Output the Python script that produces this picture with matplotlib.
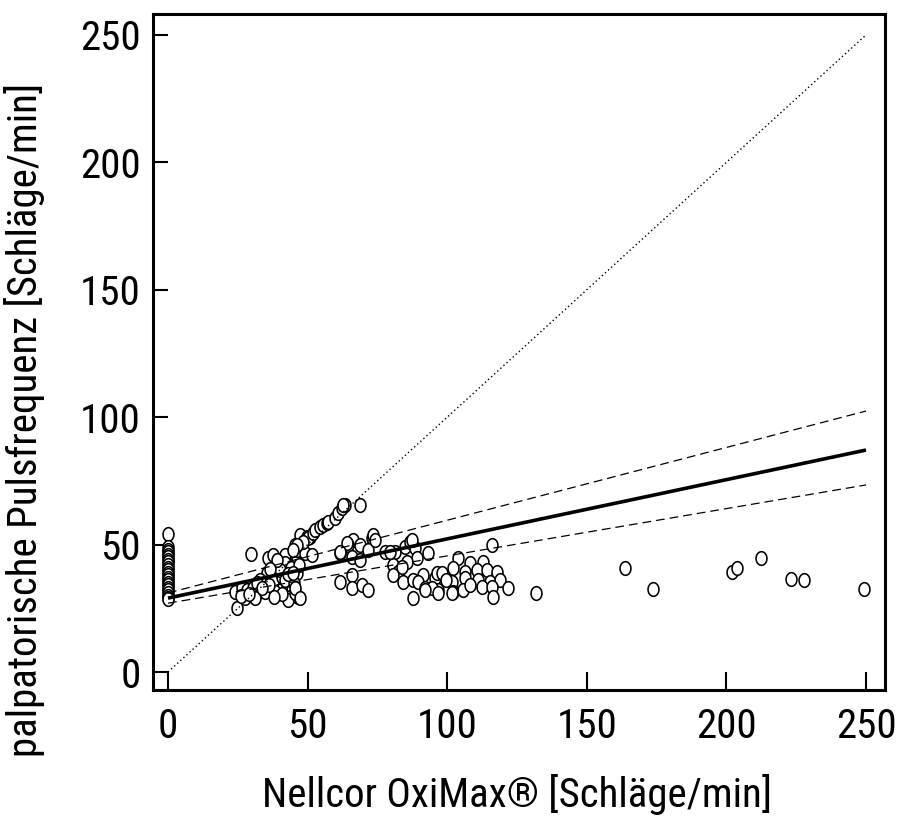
import glob
import numpy as np
import matplotlib
matplotlib.use("Agg")
import matplotlib.pyplot as plt
from matplotlib import font_manager
from matplotlib.font_manager import FontProperties
from matplotlib.textpath import TextPath

# ---------- pick a narrow font if one exists ----------
files = [f.fname for f in font_manager.fontManager.ttflist]
prefs = ["LiberationSansNarrow-Regular", "RobotoCondensed-Regular",
         "Roboto_Condensed-Regular", "RobotoCondensed[", "OpenSans_Condensed-Regular",
         "OpenSansCondensed-Regular", "DejaVuSansCondensed.ttf"]
chosen = None
for p in prefs:
    for fn in files:
        if p.lower() in fn.lower().replace(" ", ""):
            chosen = fn
            break
    if chosen:
        break
if chosen:
    FP = FontProperties(fname=chosen)
else:
    FP = FontProperties(family="Liberation Sans")

ext = TextPath((0, 0), "250", size=10, prop=FP).get_extents()
w_px = ext.width * 100 / 72 / 10
h_px = ext.height * 100 / 72 / 10
FS = float(np.sqrt((56 / w_px) * (30 / h_px)))

# ---------------- data ----------------
zero_y = [54, 49, 48, 47, 46, 45, 44, 43, 42, 41, 40, 39, 38, 37, 36, 35,
          34, 33, 32, 31, 30, 29, 28.5]
zero_x = [0] * len(zero_y)

pts_x = [24, 24.6, 26.4, 28.2, 30.6, 31.8, 27.6, 31.2, 34.7, 35.3, 35.9, 37.7,
         38.9, 37.7, 38.3, 41.9, 41.9, 40.7, 42.5, 44.3, 43.7, 45.5, 46.1, 46.1,
         47.3, 43, 46.7, 29.7, 33, 36, 40, 42, 39, 44, 45, 32, 36.5, 43, 47,
         45.5, 41, 38, 33.5, 26, 29,
         50.9, 47.3, 46.1, 49.1, 51.5, 44.9, 45.5, 47.3, 49.7, 50.3, 52, 52.6,
         54.4, 55.6, 56.8, 57.4, 59.8, 61, 62.2, 63.4, 62.8, 68.8, 48.5, 46.1, 44.9,
         66.4, 64.6, 68.8, 73, 61.6, 65.8, 68.8, 71.7, 65.8, 61.6, 65.8, 69.4,
         71.7, 64, 61.6, 73.5, 74.1,
         77.7, 81.3, 84.9, 86.7, 88.5, 89.1, 93.2, 85.5, 80.7, 82.5, 83.7, 80.7,
         84.3, 87.9, 91.4, 89.6, 92, 95.6, 96.8, 94.4, 87.9, 96.8, 96.2, 87.3,
         79.5, 92,
         115.9, 104, 108.2, 112.9, 102.2, 106.4, 110.6, 114.1, 117.7, 98, 101.6,
         106.4, 111.1, 115.3, 118.9, 102.2, 105.8, 112.4, 115.9, 116.5, 121.9,
         101.6, 99.5, 108,
         131.7, 163.8, 173.8, 202.1, 203.8, 212.3, 223, 227.9, 249.3]
pts_y = [31.5, 25, 32.8, 32.2, 32.8, 30.9, 28.9, 28.9, 31.5, 38.7, 44.6, 45.9,
         40, 35.4, 31.5, 45.9, 42.7, 37.4, 32.8, 32.2, 29.6, 49.8, 44, 38.7,
         47.9, 28.3, 29.6, 46.2, 36, 34, 40, 36, 44, 41, 35, 35, 40.5, 38.5, 42,
         31, 30.5, 29.5, 33, 30, 30.5,
         53.1, 53.8, 47.9, 46.6, 45.9, 38.7, 32.8, 28.9, 53.1, 52.5, 54.4, 55.7,
         57, 57.7, 58.4, 59, 60.3, 62.3, 64.2, 65.5, 65.5, 65.5, 51.1, 49.8, 47.9,
         51.8, 49.8, 49.8, 52.5, 46.6, 45.2, 44, 47.9, 38.1, 35.4, 32.8, 34.1,
         32.2, 50.5, 47.2, 53.8, 51.8,
         47.2, 47.2, 49.2, 51.1, 48.5, 44.6, 46.6, 43.3, 42, 39.4, 41.3, 38.1,
         35.4, 36.1, 38.1, 35.4, 32.8, 36.8, 32.2, 32.8, 28.9, 30.9, 38.7, 51.8,
         47.2, 32.2,
         49.8, 44.6, 42.7, 43.3, 40.7, 39.4, 40, 40, 39.4, 38.7, 35.4,
         36.8, 36.1, 35.4, 36.1, 31.5, 32.2, 33.5, 33.5, 29.6, 32.8,
         30.9, 36, 34,
         31.1, 40.7, 32.7, 39.1, 40.7, 44.7, 36.6, 36.1, 32.7]

ident_x = [0, 250]
ident_y = [0, 250]
reg_x = [0, 250]
reg_y = [29.0, 87.1]
upper_y = [31.0, 102.4]
lower_y = [27.0, 73.4]

xticks = [0, 50, 100, 150, 200, 250]
yticks = [0, 50, 100, 150, 200, 250]
xlabel = "Nellcor OxiMax® [Schläge/min]"
ylabel = "palpatorische Pulsfrequenz [Schläge/min]"

# ---------------- figure ----------------
fig = plt.figure(figsize=(9, 8.16), dpi=100)
ax = fig.add_axes([153 / 900, 1 - 690 / 816, 732 / 900, 676 / 816])

t = np.linspace(0, 2 * np.pi, 60)
ell = list(zip(0.8 * np.cos(t), np.sin(t)))

ax.plot(zero_x + pts_x, zero_y + pts_y, linestyle="none", marker=ell,
        markersize=9.8, markerfacecolor="white", markeredgecolor="black",
        markeredgewidth=1.15, zorder=2)

ax.plot(ident_x, ident_y, color="black", lw=1.0, linestyle=(0, (1, 2)), zorder=3)
ax.plot(reg_x, upper_y, color="black", lw=0.9, linestyle=(0, (7, 4)), zorder=3)
ax.plot(reg_x, lower_y, color="black", lw=0.9, linestyle=(0, (7, 4)), zorder=3)
ax.plot(reg_x, reg_y, color="black", lw=2.6, solid_capstyle="butt", zorder=4)

ax.set_xlim(-5.37, 256.8)
ax.set_ylim(-7.06, 258.2)
ax.set_xticks(xticks)
ax.set_yticks(yticks)
ax.tick_params(axis="x", direction="in", length=13, width=1.5, pad=12)
ax.tick_params(axis="y", direction="in", length=10.8, width=1.5, pad=9)
for lab in ax.get_xticklabels() + ax.get_yticklabels():
    lab.set_fontproperties(FP)
    lab.set_fontsize(FS)
for s in ax.spines.values():
    s.set_linewidth(2.2)

ax.set_xlabel(xlabel, fontproperties=FP, fontsize=FS)
ax.set_ylabel(ylabel, fontproperties=FP, fontsize=FS)
ax.xaxis.set_label_coords(0.497, -0.124)
ax.xaxis.label.set_va("top")
ax.yaxis.set_label_coords(-0.148, 0.40)

fig.savefig("out.png", dpi=100)
